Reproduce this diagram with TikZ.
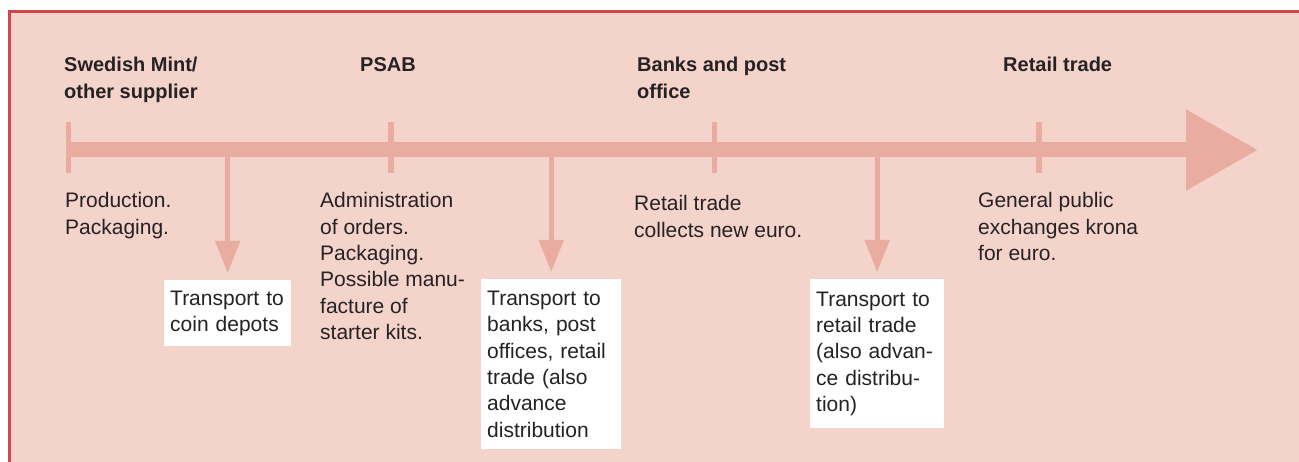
\documentclass[tikz,border=0pt]{standalone}
\usepackage{fontspec}
\setmainfont{Liberation Sans}
\usetikzlibrary{arrows.meta}

\definecolor{bgpink}{RGB}{243,211,202}
\definecolor{arrowpink}{RGB}{232,172,160}
\definecolor{framered}{RGB}{208,72,76}
\definecolor{inkgrey}{RGB}{38,34,35}

\begin{document}
\begin{tikzpicture}[x=1pt, y=-1pt,
  head/.style={anchor=base west, inner sep=0pt, align=left, text=inkgrey,
    font=\fontsize{20}{27}\selectfont\bfseries},
  body/.style={anchor=base west, inner sep=0pt, align=left, text=inkgrey,
    font=\fontsize{21}{26.3}\selectfont},
  cargo/.style={anchor=north west, fill=white, inner xsep=6pt, inner ysep=0pt,
    align=left, text=inkgrey, font=\fontsize{21}{26.3}\selectfont},
  timeline/.style={draw=arrowpink, line width=15pt,
    -{Triangle[width=77pt, length=72pt]}},
  stopmark/.style={draw=arrowpink, line width=5.5pt},
  drop/.style={draw=arrowpink, line width=5pt, shorten >=7pt,
    -{Triangle[width=24pt, length=32pt]}}]

  \useasboundingbox (0,0) rectangle (1299,462);
  \fill[bgpink] (8,11) rectangle (1299,462);
  \draw[framered, line width=3pt] (9.5,462) -- (9.5,12) -- (1299,12);

  % stations on the line
  \coordinate (start) at (66,150);
  \coordinate (end) at (1258,150);
  \coordinate (mint) at (68.5,150);
  \coordinate (psab) at (391,150);
  \coordinate (banks) at (714.5,150);
  \coordinate (retail) at (1039,150);

  \draw[stopmark] (mint) ++(0,-28) -- ++(0,51);
  \draw[stopmark] (psab) ++(0,-28) -- ++(0,51);
  \draw[stopmark] (banks) ++(0,-28) -- ++(0,51);
  \draw[stopmark] (retail) ++(0,-28) -- ++(0,51);
  \draw[timeline] (start) -- (end);

  % base of a multi-line node is its last line
  \node[head] (minthead) at (64,99) {Swedish Mint/\\other supplier};
  \node[head] (psabhead) at (360,72) {PSAB};
  \node[head] (bankshead) at (637,99) {Banks and post\\office};
  \node[head] (retailhead) at (1003,72) {Retail trade};

  \node[body] (production) at (65,234.3) {Production.\\Packaging.};
  \node[body] (admin) at (320,339.5) {Administration\\of orders.\\Packaging.\\Possible manu-\\facture of\\starter kits.};
  \node[body] (collects) at (634,237.3) {Retail trade\\collects new euro.};
  \node[body] (exchange) at (978,260.6) {General public\\exchanges krona\\for euro.};

  \node[cargo, text width=115pt, minimum height=66pt] (depots) at (164,280)
    {Transport to\\coin depots};
  \node[cargo, text width=128pt, minimum height=170pt] (offices) at (481,279)
    {Transport to\\banks, post\\offices, retail\\trade (also\\advance\\distribution};
  \node[cargo, text width=122pt, minimum height=149pt] (shops) at (810,279)
    {Transport to\\retail trade\\(also advan-\\ce distribu-\\tion)};

  \draw[drop] (depots.north |- mint) -- (depots.north);
  \draw[drop] (offices.north |- mint) -- (offices.north);
  \draw[drop] (shops.north |- mint) -- (shops.north);

\end{tikzpicture}
\end{document}
